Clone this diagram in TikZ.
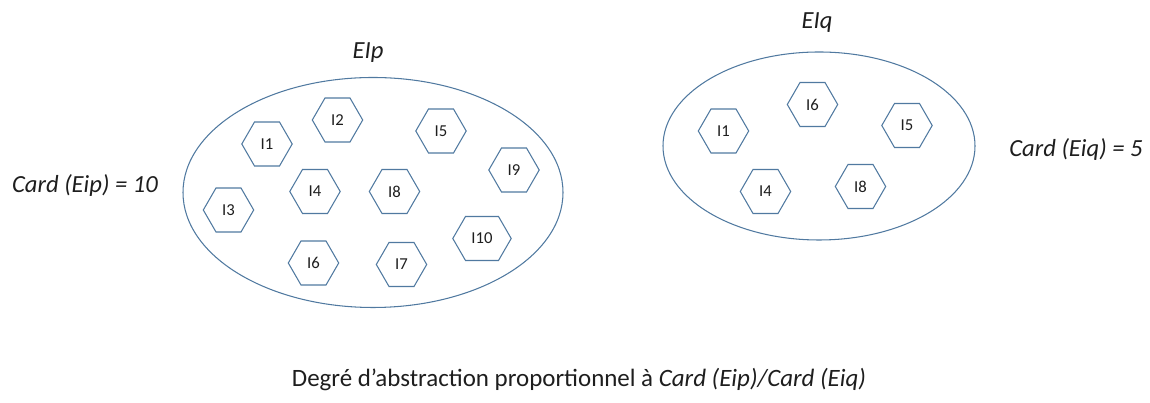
\documentclass[tikz,border=0pt]{standalone}
\usepackage{fontspec}
\setmainfont{Carlito}
\usepackage{xcolor}
\usetikzlibrary{shapes.geometric,shapes.symbols}
\definecolor{SetLine}{HTML}{5079A0}
\definecolor{SetText}{HTML}{1E1E1E}
\tikzset{
  setbox/.style={draw=SetLine,line width=0.6pt,ellipse,inner sep=0pt},
  hexcell/.style={draw=SetLine,line width=0.6pt,shape=signal,signal to=east and west,
    signal pointer angle=120,minimum height=0.88cm,text width=0.5cm,align=center,
    inner xsep=0pt,text=SetText,font=\fontsize{9.5}{11}\selectfont},
  settitle/.style={text=SetText,font=\fontsize{14}{16}\selectfont\itshape}
}

\begin{document}
\begin{tikzpicture}[x=1cm,y=1cm]
\path[use as bounding box] (0,0) rectangle (23.00,8.06);
% ensemble Eip
\node[setbox,minimum width=7.60cm,minimum height=4.60cm] (setp) at (7.46,4.21) {};
\node[settitle] (titlep) at (7.36,7.00) {EIp};
\node[settitle] (cardp) at (1.70,4.34) {Card (Eip) = 10};
\node[hexcell] (p1) at (5.34,5.18) {I1};
\node[hexcell] (p2) at (6.75,5.66) {I2};
\node[hexcell] (p3) at (4.57,3.86) {I3};
\node[hexcell] (p4) at (6.30,4.23) {I4};
\node[hexcell] (p5) at (8.82,5.44) {I5};
\node[hexcell] (p6) at (6.27,2.80) {I6};
\node[hexcell] (p7) at (8.03,2.77) {I7};
\node[hexcell] (p8) at (7.89,4.23) {I8};
\node[hexcell] (p9) at (10.28,4.66) {I9};
\node[hexcell,text width=0.66cm] (p10) at (9.64,3.29) {I10};
% ensemble Eiq
\node[setbox,minimum width=6.24cm,minimum height=3.76cm] (setq) at (16.38,5.14) {};
\node[settitle] (titleq) at (16.34,7.60) {EIq};
\node[settitle] (cardq) at (21.52,5.06) {Card (Eiq) = 5};
\node[hexcell] (q1) at (14.47,5.44) {I1};
\node[hexcell] (q4) at (15.31,4.23) {I4};
\node[hexcell] (q5) at (18.14,5.55) {I5};
\node[hexcell] (q6) at (16.25,5.97) {I6};
\node[hexcell] (q8) at (17.21,4.33) {I8};
% legende
\node[text=SetText,font=\fontsize{14.2}{16}\selectfont] (ratio) at (11.58,0.46)
  {Degré d’abstraction proportionnel à \textit{Card (Eip)/Card (Eiq)}};
\end{tikzpicture}
\end{document}
